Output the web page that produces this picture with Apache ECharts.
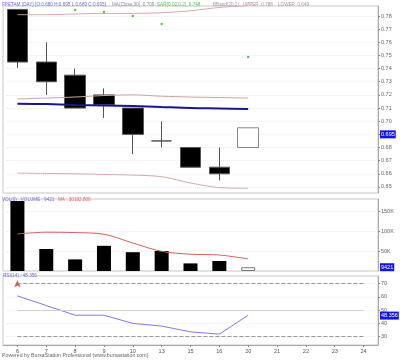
<!DOCTYPE html>
<html><head><meta charset="utf-8">
<script src="https://cdn.jsdelivr.net/npm/echarts@6/dist/echarts.min.js"></script>
<style>html,body{margin:0;padding:0;background:#fff}#c{width:400px;height:360px}</style>
</head><body><div id="c"></div>
<script>
const dates = ['6','7','8','9','10','13','15','16','20','21','22','23','24'];
const opens  = [0.785, 0.745, 0.735, 0.72,   0.71,  0.685, 0.68,  0.665, 0.68];
const closes = [0.745, 0.73,  0.71,  0.7125, 0.69,  0.685, 0.665, 0.66,  0.695];
const lows   = [0.7405,0.72,  0.71,  0.7025, 0.675, 0.68,  0.665, 0.655, 0.68];
const highs  = [0.785, 0.76,  0.74,  0.725,  0.71,  0.70,  0.68,  0.68,  0.695];
const bbUpper = [0.781, 0.781, 0.7815, 0.782, 0.782, 0.7825, 0.784, 0.7865, 0.788];
const bbMid   = [0.7169,0.7176,0.7184,0.7195,0.72,0.719,0.7184,0.718,0.7176];
const bbLower = [0.6606,0.6602,0.66,0.6595,0.659,0.6578,0.653,0.6495,0.649];
const ma30    = [0.7133,0.713,0.7123,0.712,0.7116,0.7108,0.71,0.7097,0.7093];
const sar     = [null,null,0.7846,0.783,0.78,0.7739,null,null,0.7488];
const volumes = [175000,55000,29000,63000,47000,50000,19000,25000,9421];
const volMA   = [92500,97000,96000,92000,70000,49000,42000,40000,30192.8];
const rsi     = [60.8,53.5,46.2,46.2,40,38,33.6,31.9,46.2];
const priceTicks = [0.65,0.66,0.67,0.68,0.69,0.70,0.71,0.72,0.73,0.74,0.75,0.76,0.77,0.78];
const volTicks = [50000,100000,150000];
const rsiTicks = [30,40,50,60,70];

const FONT = '"Liberation Sans", sans-serif';
const candleData = dates.map((d,i)=> i<opens.length ? [opens[i],closes[i],lows[i],highs[i]] : '-');
const pad = arr => dates.map((d,i)=> i<arr.length ? arr[i] : '-');
const volData = dates.map((d,i)=> i<volumes.length ? {value: volumes[i], itemStyle: closes[i] > opens[i] ? {color:'#fff', borderColor:'#777', borderWidth:1} : {color:'#000'}} : '-');

const boxLabel = (txt) => ({show:true, position:'end', formatter: txt, backgroundColor:'#1414e6', color:'#fff', fontSize:5.5, fontFamily:FONT, padding:[1,1,1,1], distance:2});
const hidden = {color:'rgba(0,0,0,0)', width:0.01};

const yCommon = (ticks, fmt) => ({
  type:'value', position:'right', scale:true,
  axisLine:{show:true, lineStyle:{color:'#aaa'}},
  axisTick:{show:true, length:2, customValues: ticks, lineStyle:{color:'#888'}},
  axisLabel:{fontSize:5.5, fontFamily:FONT, color:'#666', margin:3, customValues: ticks, formatter: fmt},
  splitLine:{show:true, lineStyle:{color:'#ececec', type:'dotted'}}
});

const txt = (x, y, s, color, sx) => ({type:'text', x:x, y:y, scaleX:sx || 0.84, style:{text:s, fill:color, fontSize:5.5, fontFamily:FONT, textVerticalAlign:'top'}});

const chart = echarts.init(document.getElementById('c'));
chart.setOption({
  animation:false,
  backgroundColor:'#fff',
  grid:[
    {left:3, right:22, top:6, height:187, show:true, borderColor:'#c8c8c8', borderWidth:1},
    {left:3, right:22, top:199, height:72, show:true, borderColor:'#c8c8c8', borderWidth:1},
    {left:3, right:22, top:276, height:69, show:true, borderColor:'#c8c8c8', borderWidth:1}
  ],
  xAxis:[
    {type:'category', gridIndex:0, data:dates, axisLine:{show:false}, axisTick:{show:false}, axisLabel:{show:false}},
    {type:'category', gridIndex:1, data:dates, axisLine:{show:false}, axisTick:{show:false}, axisLabel:{show:false}},
    {type:'category', gridIndex:2, data:dates, axisLine:{show:true, lineStyle:{color:'#aaa'}},
      axisTick:{show:true, alignWithLabel:true, length:2, lineStyle:{color:'#888'}},
      axisLabel:{fontSize:5.5, fontFamily:FONT, color:'#555', margin:3}}
  ],
  yAxis:[
    Object.assign(yCommon(priceTicks, v=>v.toFixed(2)), {gridIndex:0, min:0.6454, max:0.7876}),
    Object.assign(yCommon(volTicks, v=>(v/1000)+'K'), {gridIndex:1, min:0, max:180000}),
    Object.assign(yCommon(rsiTicks, v=>String(v)), {gridIndex:2, min:23.7, max:75.8})
  ],
  graphic:[
    txt(2, 1, 'FPETAM (DAY) [O:0.680 H:0.695 L:0.680 C:0.695]', '#6b6be0'),
    txt(112, 1, 'MA(Close,30)  0.709', '#8a8aa0'),
    txt(157, 1, 'SAR(0.02,0.2)  0.748', '#50c050'),
    txt(213, 1, 'BBand(20,2)   UPPER  0.788    LOWER  0.649', '#b09090'),
    txt(2, 196, 'VOL(0)   VOLUME : 9421', '#6b6be0'),
    txt(58, 196, 'MA : 30192.800', '#e06060'),
    txt(3, 272, 'RSI(14) : 48.356', '#6b6be0'),
    txt(2, 352, 'Powered by BursaStation Professional (www.bursastation.com)', '#666', 0.95)
  ],
  series:[
    {type:'candlestick', xAxisIndex:0, yAxisIndex:0, data:candleData, barWidth:21,
      itemStyle:{color:'#fff', color0:'#000', borderColor:'#888', borderColor0:'#555', borderWidth:1}},
    {type:'line', xAxisIndex:0, yAxisIndex:0, data:pad(bbUpper), symbol:'none', smooth:0.3, lineStyle:{color:'#d8a8a8', width:1}},
    {type:'line', xAxisIndex:0, yAxisIndex:0, data:pad(bbMid), symbol:'none', smooth:0.3, lineStyle:{color:'#d0a0a0', width:1}},
    {type:'line', xAxisIndex:0, yAxisIndex:0, data:pad(bbLower), symbol:'none', smooth:0.3, lineStyle:{color:'#d8a8a8', width:1}},
    {type:'line', xAxisIndex:0, yAxisIndex:0, data:pad(ma30), symbol:'none', smooth:0.3, lineStyle:{color:'#161690', width:2},
      markLine:{silent:true, symbol:['none','none'], lineStyle:hidden, data:[{yAxis:0.695, label:boxLabel('0.695')}]}},
    {type:'scatter', xAxisIndex:0, yAxisIndex:0, data:pad(sar), symbolSize:2.5, itemStyle:{color:'#2cb82c'}},
    {type:'bar', xAxisIndex:1, yAxisIndex:1, data:volData, barWidth:14},
    {type:'line', xAxisIndex:1, yAxisIndex:1, data:pad(volMA), symbol:'none', smooth:0.3, lineStyle:{color:'#e05a5a', width:1},
      markLine:{silent:true, symbol:['none','none'], lineStyle:hidden, data:[{yAxis:9421, label:boxLabel('9421')}]}},
    {type:'line', xAxisIndex:2, yAxisIndex:2, data:pad(rsi), symbol:'none', lineStyle:{color:'#7a7af2', width:1},
      markLine:{silent:true, symbol:['none','none'], label:{show:false},
        data:[
          [{coord:[dates[0],70], lineStyle:{color:'#999', type:'dashed', width:1}},{coord:[dates[12],70]}],
          [{coord:[dates[0],50], lineStyle:{color:'#d0d0d0', type:'solid', width:1}},{coord:[dates[12],50]}],
          [{coord:[dates[0],30], lineStyle:{color:'#999', type:'dashed', width:1}},{coord:[dates[12],30]}],
          {yAxis:45.9, lineStyle:hidden, label:boxLabel('48.356')}
        ]}},
    {type:'scatter', xAxisIndex:2, yAxisIndex:2, data:[[dates[0],72.5]], symbol:'arrow', symbolSize:[5,7], itemStyle:{color:'#e02020'}}
  ]
});
</script></body></html>
